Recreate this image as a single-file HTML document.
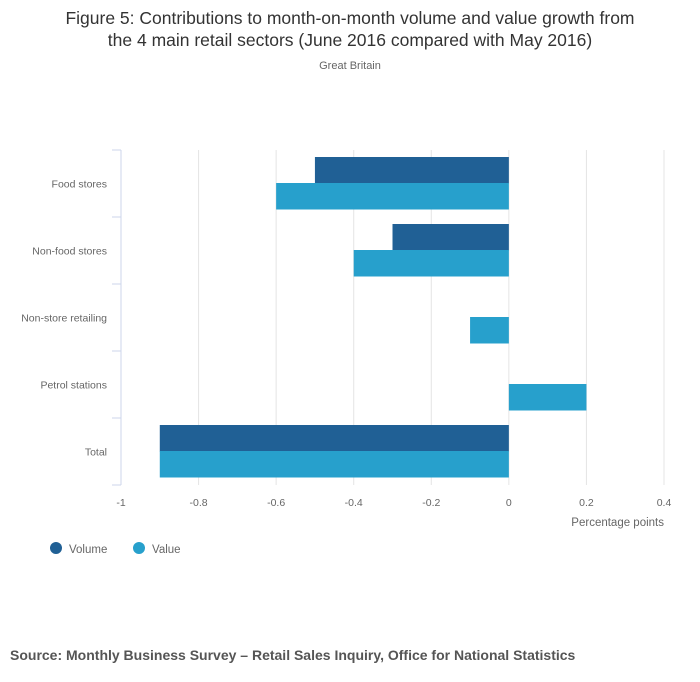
<!DOCTYPE html>
<html><head><meta charset="utf-8"><style>
body{margin:0;background:#fff;font-family:"Liberation Sans",sans-serif;}
#wrap{position:relative;width:700px;height:682px;overflow:hidden;}
</style></head><body>
<div id="wrap">
<svg id="chart" width="700" height="682" font-family="Liberation Sans, sans-serif">
<text x="350" y="24" text-anchor="middle" font-size="17.5" fill="#333">Figure 5: Contributions to month-on-month volume and value growth from</text>
<text x="350" y="46" text-anchor="middle" font-size="17.5" fill="#333">the 4 main retail sectors (June 2016 compared with May 2016)</text>
<text x="350" y="69" text-anchor="middle" font-size="11" fill="#666">Great Britain</text>
<g id="grid"></g><g id="bars"></g><g id="axes"></g>
<text x="664" y="526" text-anchor="end" font-size="11.5" fill="#666">Percentage points</text>
<g><circle cx="56" cy="548" r="6" fill="#206095"/><text x="69" y="553" font-size="11.5" fill="#666">Volume</text></g>
<g><circle cx="139" cy="548" r="6" fill="#27a0cc"/><text x="152" y="553" font-size="11.5" fill="#666">Value</text></g>
<text x="10" y="660" font-size="14" font-weight="bold" fill="#555">Source: Monthly Business Survey – Retail Sales Inquiry, Office for National Statistics</text>
</svg>
</div>
<script>
const categories=["Food stores","Non-food stores","Non-store retailing","Petrol stations","Total"];
const volume=[-0.5,-0.3,0,0,-0.9];
const value=[-0.6,-0.4,-0.1,0.2,-0.9];
const ticks=[-1,-0.8,-0.6,-0.4,-0.2,0,0.2,0.4];
const tickLabels=["-1","-0.8","-0.6","-0.4","-0.2","0","0.2","0.4"];
const NS="http://www.w3.org/2000/svg";
const x0=121,x1=664,vmin=-1,vmax=0.4,plotTop=150,plotBot=485;
const sx=v=>x0+(v-vmin)/(vmax-vmin)*(x1-x0);
const band=(plotBot-plotTop)/categories.length;
function mk(t,a,p){const e=document.createElementNS(NS,t);for(const k in a)e.setAttribute(k,a[k]);p.appendChild(e);return e;}
const g=document.getElementById('grid'),b=document.getElementById('bars'),ax=document.getElementById('axes');
ticks.forEach((t,i)=>{
 const l=mk('line',{x1:sx(t),x2:sx(t),y1:plotTop,y2:plotBot,stroke:'#e4e4e4','stroke-width':1},g);
 
 
 const tx=mk('text',{x:sx(t),y:506,'text-anchor':'middle','font-size':10.5,fill:'#666'},ax);
 tx.textContent=tickLabels[i];
 
 
});
const al=mk('line',{x1:x0,x2:x0,y1:plotTop,y2:plotBot,stroke:'#ccd6eb','stroke-width':1},ax);


for(let i=0;i<=categories.length;i++){
 const y=plotTop+i*band;
 const tk=mk('line',{x1:x0-9,x2:x0,y1:y,y2:y,stroke:'#ccd6eb','stroke-width':1},ax);
 
 
}
categories.forEach((c,i)=>{
 const yc=plotTop+i*band;
 const t=mk('text',{x:107,y:yc+band/2+4,'text-anchor':'end','font-size':10.5,fill:'#666'},ax);
 t.textContent=c;
 
 
 [[volume[i],'#206095',7,'volume'],[value[i],'#27a0cc',33,'value']].forEach(([v,col,off,nm])=>{
  if(v===0)return;
  const r=mk('rect',{x:Math.min(sx(v),sx(0)),y:yc+off,width:Math.abs(sx(v)-sx(0)),height:26.5,fill:col},b);
  
  
 });
});
</script>
</body></html>
